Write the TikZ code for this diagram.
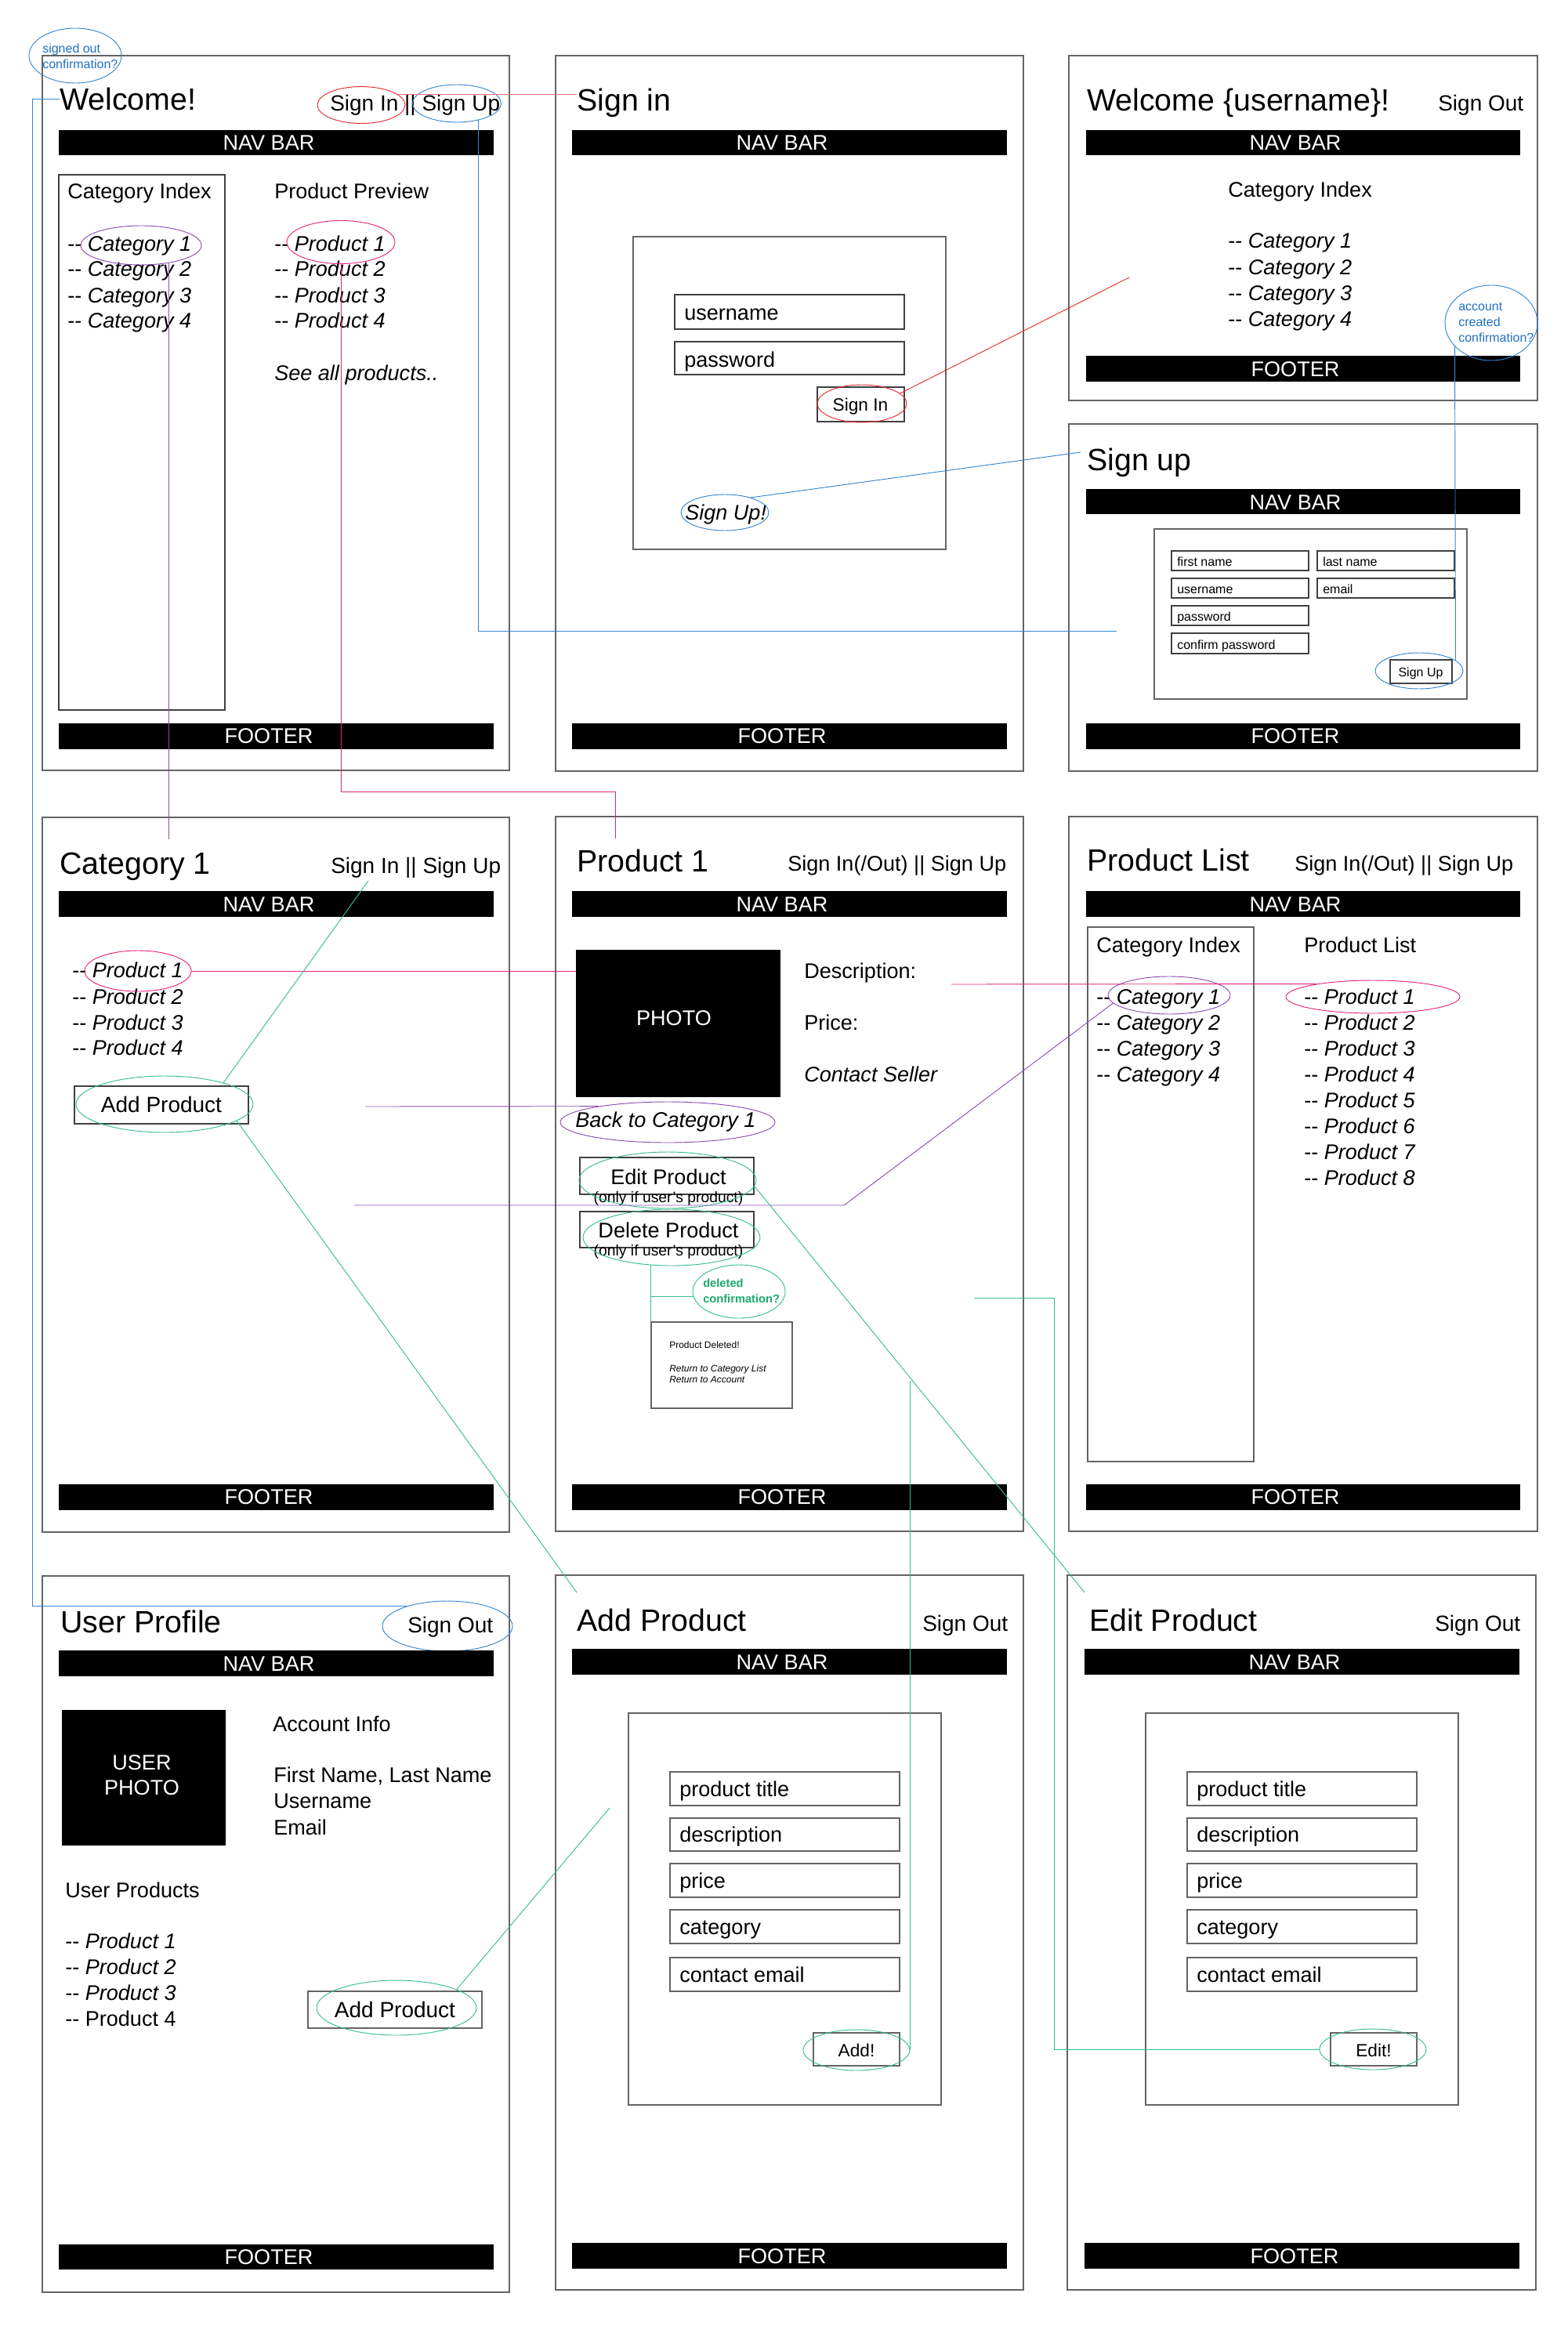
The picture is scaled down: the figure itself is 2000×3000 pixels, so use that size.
\documentclass[tikz,border=0pt]{standalone}
\usepackage{fontspec}
\setmainfont{Liberation Sans}
\usetikzlibrary{shapes.geometric}

\definecolor{wfblue}{RGB}{52,134,210}
\definecolor{wfnote}{RGB}{31,112,196}
\definecolor{wfred}{RGB}{232,40,50}
\definecolor{wfsalmon}{RGB}{238,112,124}
\definecolor{wfpink}{RGB}{230,36,124}
\definecolor{wfpurple}{RGB}{140,76,178}
\definecolor{wfgreen}{RGB}{54,190,136}
\definecolor{wfgreentext}{RGB}{28,168,108}
\definecolor{wfframe}{RGB}{100,100,100}

\newcommand{\itm}[1]{-\kern0pt-\ #1}

\begin{document}
\begin{tikzpicture}[x=0.75pt,y=0.75pt,yscale=-1,xscale=1,
  win/.style={draw=wfframe, line width=1.1pt},
  box/.style={draw=wfframe, line width=0.9pt},
  fld/.style={draw=black!75, line width=0.8pt},
  bar/.style={fill=black},
  ttl/.style={font=\fontsize{29.5}{35}\selectfont, inner sep=0pt, anchor=base west},
  txt/.style={font=\fontsize{20.3}{24}\selectfont, inner sep=0pt, anchor=base west},
  lnk/.style={font=\fontsize{21}{25}\selectfont, inner sep=0pt, anchor=base west},
  btn/.style={font=\fontsize{17}{20}\selectfont, inner sep=0pt, anchor=base},
  sml/.style={font=\fontsize{12}{14}\selectfont, inner sep=0pt, anchor=base west},
  owner/.style={font=\fontsize{14.5}{17}\selectfont, inner sep=0pt, anchor=base},
  tiny/.style={font=\fontsize{9}{11}\selectfont, inner sep=0pt, anchor=base west},
  conf/.style={font=\bfseries\fontsize{11}{13}\selectfont, text=wfgreentext, inner sep=0pt, anchor=base west},
  bartxt/.style={font=\fontsize{20.3}{24}\selectfont, text=white, inner sep=0pt, anchor=base},
  note/.style={font=\fontsize{12}{14}\selectfont, text=wfnote, inner sep=0pt, anchor=base west},
  ring/.style 2 args={ellipse, draw, line width=0.7pt, minimum width={#1*0.75pt}, minimum height={#2*0.75pt}, inner sep=0pt},
  wire/.style={line width=0.7pt}
]
\useasboundingbox (0,0) rectangle (2000,3000);

%%%%%%%% Welcome (signed out)
%Shape: Rectangle
\draw [win] (54,71) rectangle (650,983) ;
% Text Node
\node [ttl] (welTitle) at (76,141) {Welcome!};
% Text Node
\node [lnk] (welSign) at (421,142) {Sign In || Sign Up};
%Shape: Ellipse
\node [ring={112}{47}, draw=wfred] (welIn) at (461,134) {};
\node [ring={113}{48}, draw=wfblue] (welUp) at (583,132) {};
%Shape: Rectangle
\draw [bar] (75,166) rectangle (629,197) ;
\node [bartxt] (welNav) at (343,192) {NAV BAR};
\draw [fld] (75,223) rectangle (287,906) ;
% Text Node
\node [txt] (welCatHd) at (86,254) {Category Index};
\node [txt] (welPrdHd) at (350,254) {Product Preview};
\node [txt] (welCat1) at (86,321) {\itm{\textit{Category 1}}};
\node [txt] (welCat2) at (86,353) {\itm{\textit{Category 2}}};
\node [txt] (welCat3) at (86,386) {\itm{\textit{Category 3}}};
\node [txt] (welCat4) at (86,418) {\itm{\textit{Category 4}}};
\node [txt] (welPrd1) at (350,321) {\itm{\textit{Product 1}}};
\node [txt] (welPrd2) at (350,353) {\itm{\textit{Product 2}}};
\node [txt] (welPrd3) at (350,386) {\itm{\textit{Product 3}}};
\node [txt] (welPrd4) at (350,418) {\itm{\textit{Product 4}}};
\node [txt] (welAll) at (350,485) {\textit{See all products..}};
%Shape: Ellipse
\node [ring={154}{50}, draw=wfpurple] (welCatRing) at (180,313) {};
\node [ring={138}{55}, draw=wfpink] (welPrdRing) at (435,309) {};
%Shape: Rectangle
\draw [bar] (75,923) rectangle (629,955) ;
\node [bartxt] (welFoot) at (343,948) {FOOTER};
%Shape: Ellipse
\node [ring={118}{70}, draw=wfblue] (outNote) at (96,71) {};
\node [note] (outNoteA) at (54,68) {signed out};
\node [note] (outNoteB) at (54,88) {confirmation?};

%%%%%%%% Sign in
\draw [win] (709,71) rectangle (1306,984) ;
\node [ttl] (sinTitle) at (736,142) {Sign in};
\draw [bar] (730,166) rectangle (1284,197) ;
\node [bartxt] (sinNav) at (998,192) {NAV BAR};
\draw [box] (808,302) rectangle (1207,701) ;
\draw [fld] (861,376) rectangle (1154,420) ;
\node [txt] (sinUser) at (873,408) {username};
\draw [fld] (861,436) rectangle (1154,478) ;
\node [txt] (sinPass) at (873,468) {password};
\draw [fld] (1043,494) rectangle (1154,538) ;
\node [btn] (sinBtn) at (1098,524) {Sign In};
\node [ring={114}{48}, draw=wfred] (sinIn) at (1100,515) {};
\node [txt] (sinUp) at (874,663) {\textit{Sign Up!}};
\node [ring={112}{46}, draw=wfblue] (sinUpRing) at (925,654) {};
\draw [bar] (730,923) rectangle (1284,955) ;
\node [bartxt] (sinFoot) at (998,948) {FOOTER};

%%%%%%%% Welcome (signed in)
\draw [win] (1364,71) rectangle (1962,511) ;
\node [ttl] (homeTitle) at (1387,142) {Welcome \{username\}!};
\node [lnk] (homeOut) at (1835,142) {Sign Out};
\draw [bar] (1386,166) rectangle (1939,197) ;
\node [bartxt] (homeNav) at (1653,192) {NAV BAR};
\node [txt] (homeCatHd) at (1567,252) {Category Index};
\node [txt] (homeCat1) at (1567,317) {\itm{\textit{Category 1}}};
\node [txt] (homeCat2) at (1567,350) {\itm{\textit{Category 2}}};
\node [txt] (homeCat3) at (1567,383) {\itm{\textit{Category 3}}};
\node [txt] (homeCat4) at (1567,416) {\itm{\textit{Category 4}}};
\draw [bar] (1386,454) rectangle (1939,486) ;
\node [bartxt] (homeFoot) at (1653,480) {FOOTER};
\node [ring={118}{96}, draw=wfblue] (homeNote) at (1903,412) {};
\node [note] (homeNoteA) at (1861,397) {account};
\node [note] (homeNoteB) at (1861,416) {created};
\node [note] (homeNoteC) at (1861,436) {confirmation?};

%%%%%%%% Sign up
\draw [win] (1364,541) rectangle (1962,984) ;
\node [ttl] (upTitle) at (1387,600) {Sign up};
\draw [bar] (1386,624) rectangle (1939,655) ;
\node [bartxt] (upNav) at (1653,650) {NAV BAR};
\draw [box] (1473,675) rectangle (1872,892) ;
\draw [fld] (1495,703) rectangle (1670,728) ;
\node [sml] (upFirst) at (1502,722) {first name};
\draw [fld] (1681,703) rectangle (1856,728) ;
\node [sml] (upLast) at (1688,722) {last name};
\draw [fld] (1495,738) rectangle (1670,763) ;
\node [sml] (upUser) at (1502,757) {username};
\draw [fld] (1681,738) rectangle (1856,763) ;
\node [sml] (upMail) at (1688,757) {email};
\draw [fld] (1495,773) rectangle (1670,798) ;
\node [sml] (upPass) at (1502,792) {password};
\draw [fld] (1495,808) rectangle (1670,834) ;
\node [sml] (upConf) at (1502,828) {confirm password};
\draw [fld] (1774,842) rectangle (1853,872) ;
\node [sml, anchor=base] (upBtn) at (1813,863) {Sign Up};
\node [ring={112}{46}, draw=wfblue] (upBtnRing) at (1811,856) {};
\draw [bar] (1386,923) rectangle (1939,955) ;
\node [bartxt] (upFoot) at (1653,948) {FOOTER};

%%%%%%%% Category 1
\draw [win] (54,1043) rectangle (650,1955) ;
\node [ttl] (catTitle) at (76,1115) {Category 1};
\node [lnk] (catSign) at (422,1114) {Sign In || Sign Up};
\draw [bar] (75,1137) rectangle (629,1169) ;
\node [bartxt] (catNav) at (343,1163) {NAV BAR};
\node [txt] (catPrd1) at (92,1247) {\itm{\textit{Product 1}}};
\node [txt] (catPrd2) at (92,1281) {\itm{\textit{Product 2}}};
\node [txt] (catPrd3) at (92,1314) {\itm{\textit{Product 3}}};
\node [txt] (catPrd4) at (92,1346) {\itm{\textit{Product 4}}};
\node [ring={136}{52}, draw=wfpink] (catP1) at (176,1239) {};
\draw [fld] (95,1386) rectangle (317,1434) ;
\node [lnk, anchor=base] (catAdd) at (206,1419) {Add Product};
\node [ring={226}{72}, draw=wfgreen] (catAddRing) at (210,1409) {};
\draw [bar] (75,1894) rectangle (629,1926) ;
\node [bartxt] (catFoot) at (343,1919) {FOOTER};

%%%%%%%% Product 1
\draw [win] (709,1042) rectangle (1306,1954) ;
\node [ttl] (prdTitle) at (736,1112) {Product 1};
\node [txt] (prdSign) at (1005,1111) {Sign In(/Out) || Sign Up};
\draw [bar] (730,1137) rectangle (1284,1169) ;
\node [bartxt] (prdNav) at (998,1163) {NAV BAR};
\node [fill=black, minimum width={261*0.75pt}, minimum height={188*0.75pt}, inner sep=0pt] (prdPhoto) at (865.5,1306) {};
\node [bartxt] (prdPhotoTxt) at (860,1308) {PHOTO};
\node [txt] (prdDesc) at (1026,1248) {Description:};
\node [txt] (prdPrice) at (1026,1314) {Price:};
\node [txt] (prdSeller) at (1026,1380) {\textit{Contact Seller}};
\node [txt] (prdBack) at (734,1438) {\textit{Back to Category 1}};
\node [ring={274}{52}, draw=wfpurple] (prdBackRing) at (852,1432) {};
\draw [fld] (740,1477) rectangle (962,1524) ;
\node [txt, anchor=base] (prdEdit) at (853,1511) {Edit Product};
\node [owner] (prdEditNote) at (853,1534) {(only if user's product)};
\node [ring={226}{72}, draw=wfgreen] (prdEditRing) at (852,1506) {};
\draw [fld] (740,1546) rectangle (962,1592) ;
\node [txt, anchor=base] (prdDel) at (853,1579) {Delete Product};
\node [owner] (prdDelNote) at (853,1602) {(only if user's product)};
\node [ring={226}{72}, draw=wfgreen] (prdDelRing) at (857,1579) {};
\node [ring={118}{68}, draw=wfgreen] (prdDelConf) at (943,1648) {};
\node [conf] (prdDelConfA) at (897,1642) {deleted};
\node [conf] (prdDelConfB) at (897,1662) {confirmation?};
\node [box, minimum width={180*0.75pt}, minimum height={110*0.75pt}, inner sep=0pt] (prdDelMsg) at (921,1742) {};
\node [tiny] (prdDelA) at (854,1720) {Product Deleted!};
\node [tiny] (prdDelB) at (854,1750) {\textit{Return to Category List}};
\node [tiny] (prdDelC) at (854,1764) {\textit{Return to Account}};
\draw [bar] (730,1894) rectangle (1284,1926) ;
\node [bartxt] (prdFoot) at (998,1919) {FOOTER};

%%%%%%%% Product List
\draw [win] (1364,1042) rectangle (1962,1954) ;
\node [ttl] (plTitle) at (1387,1111) {Product List};
\node [txt] (plSign) at (1652,1111) {Sign In(/Out) || Sign Up};
\draw [bar] (1386,1137) rectangle (1939,1169) ;
\node [bartxt] (plNav) at (1653,1163) {NAV BAR};
\draw [box] (1388,1183) rectangle (1600,1865) ;
\node [txt] (plCatHd) at (1399,1215) {Category Index};
\node [txt] (plPrdHd) at (1664,1215) {Product List};
\node [txt] (plCatA) at (1399,1281) {\itm{\textit{Category 1}}};
\node [txt] (plCatB) at (1399,1314) {\itm{\textit{Category 2}}};
\node [txt] (plCatC) at (1399,1347) {\itm{\textit{Category 3}}};
\node [txt] (plCatD) at (1399,1380) {\itm{\textit{Category 4}}};
\node [txt] (plPrdA) at (1664,1281) {\itm{\textit{Product 1}}};
\node [txt] (plPrdB) at (1664,1314) {\itm{\textit{Product 2}}};
\node [txt] (plPrdC) at (1664,1347) {\itm{\textit{Product 3}}};
\node [txt] (plPrdD) at (1664,1380) {\itm{\textit{Product 4}}};
\node [txt] (plPrdE) at (1664,1413) {\itm{\textit{Product 5}}};
\node [txt] (plPrdF) at (1664,1446) {\itm{\textit{Product 6}}};
\node [txt] (plPrdG) at (1664,1479) {\itm{\textit{Product 7}}};
\node [txt] (plPrdH) at (1664,1512) {\itm{\textit{Product 8}}};
\node [ring={156}{48}, draw=wfpurple] (plCat1) at (1492,1270) {};
\node [ring={222}{42}, draw=wfpink] (plPrd1) at (1752,1272) {};
\draw [bar] (1386,1894) rectangle (1939,1926) ;
\node [bartxt] (plFoot) at (1653,1919) {FOOTER};

%%%%%%%% User Profile
\draw [win] (54,2011) rectangle (650,2925) ;
\node [ttl] (usrTitle) at (77,2083) {User Profile};
\node [lnk] (usrOut) at (520,2083) {Sign Out};
\node [ring={166}{64}, draw=wfblue] (usrOutRing) at (571,2075) {};
\draw [bar] (75,2106) rectangle (629,2138) ;
\node [bartxt] (usrNav) at (343,2132) {NAV BAR};
\draw [bar] (79,2182) rectangle (287,2354) ;
\node [bartxt] (usrPhotoA) at (181,2258) {USER};
\node [bartxt] (usrPhotoB) at (181,2290) {PHOTO};
\node [txt] (usrInfo) at (348,2209) {Account Info};
\node [txt] (usrName) at (349,2274) {First Name, Last Name};
\node [txt] (usrLogin) at (349,2307) {Username};
\node [txt] (usrMail) at (349,2341) {Email};
\node [txt] (usrPrdHd) at (83,2421) {User Products};
\node [txt] (usrPrd1) at (83,2486) {\itm{\textit{Product 1}}};
\node [txt] (usrPrd2) at (83,2519) {\itm{\textit{Product 2}}};
\node [txt] (usrPrd3) at (83,2552) {\itm{\textit{Product 3}}};
\node [txt] (usrPrd4) at (83,2585) {\itm{Product 4}};
\draw [box] (393,2541) rectangle (615,2588) ;
\node [lnk, anchor=base] (usrAdd) at (504,2574) {Add Product};
\node [ring={204}{70}, draw=wfgreen] (usrAddRing) at (506,2562) {};
\draw [bar] (75,2864) rectangle (629,2895) ;
\node [bartxt] (usrFoot) at (343,2889) {FOOTER};

%%%%%%%% Add Product
\draw [win] (709,2010) rectangle (1306,2922) ;
\node [ttl] (addTitle) at (736,2081) {Add Product};
\node [lnk] (addOut) at (1177,2081) {Sign Out};
\draw [bar] (730,2104) rectangle (1284,2136) ;
\node [bartxt] (addNav) at (998,2130) {NAV BAR};
\draw [box] (802,2186) rectangle (1201,2686) ;
\draw [box] (855,2261) rectangle (1148,2304) ;
\node [txt] (addF1) at (867,2292) {product title};
\draw [box] (855,2320) rectangle (1148,2362) ;
\node [txt] (addF2) at (867,2350) {description};
\draw [box] (855,2378) rectangle (1148,2421) ;
\node [txt] (addF3) at (867,2409) {price};
\draw [box] (855,2437) rectangle (1148,2480) ;
\node [txt] (addF4) at (867,2468) {category};
\draw [box] (855,2498) rectangle (1148,2541) ;
\node [txt] (addF5) at (867,2529) {contact email};
\draw [box] (1038,2594) rectangle (1148,2636) ;
\node [btn] (addBtn) at (1093,2624) {Add!};
\node [ring={136}{52}, draw=wfgreen] (addBtnRing) at (1093,2616) {};
\draw [bar] (730,2862) rectangle (1284,2894) ;
\node [bartxt] (addFoot) at (998,2888) {FOOTER};

%%%%%%%% Edit Product
\draw [win] (1362,2010) rectangle (1960,2922) ;
\node [ttl] (edtTitle) at (1390,2081) {Edit Product};
\node [lnk] (edtOut) at (1831,2081) {Sign Out};
\draw [bar] (1384,2104) rectangle (1938,2136) ;
\node [bartxt] (edtNav) at (1652,2130) {NAV BAR};
\draw [box] (1462,2186) rectangle (1861,2686) ;
\draw [box] (1515,2261) rectangle (1808,2304) ;
\node [txt] (edtF1) at (1527,2292) {product title};
\draw [box] (1515,2320) rectangle (1808,2362) ;
\node [txt] (edtF2) at (1527,2350) {description};
\draw [box] (1515,2378) rectangle (1808,2421) ;
\node [txt] (edtF3) at (1527,2409) {price};
\draw [box] (1515,2437) rectangle (1808,2480) ;
\node [txt] (edtF4) at (1527,2468) {category};
\draw [box] (1515,2498) rectangle (1808,2541) ;
\node [txt] (edtF5) at (1527,2529) {contact email};
\draw [box] (1698,2594) rectangle (1808,2636) ;
\node [btn] (edtBtn) at (1753,2624) {Edit!};
\node [ring={136}{52}, draw=wfgreen] (edtBtnRing) at (1752,2615) {};
\draw [bar] (1384,2862) rectangle (1938,2894) ;
\node [bartxt] (edtFoot) at (1652,2888) {FOOTER};

%%%%%%%% links between pages
\coordinate (outRail) at (41,124);
\coordinate (upForm) at (1425,805);
\coordinate (catIn) at (214,1071);
\coordinate (prdKnee) at (785,1010);
\coordinate (prdIn) at (785,1070);
\coordinate (homeIn) at (1441,354);
\coordinate (upIn) at (1379,577);
\coordinate (catSignPt) at (470,1124);
\coordinate (addIn) at (736,2032);
\coordinate (backFrom) at (466,1412);
\coordinate (catFrom) at (452,1538);
\coordinate (catKnee) at (1077,1538);
\coordinate (edtIn) at (1384,2032);
\coordinate (addFrom) at (1161,1762);
\coordinate (edtFrom) at (1243,1656);
\coordinate (edtKnee) at (1345,1656);
\coordinate (plFrom) at (1214,1256);
\coordinate (usrAddIn) at (778,2307);

%Straight Lines
\draw [wire, wfsalmon] (welIn.17) -- (welIn.17 -| sinTitle.west) ;
\draw [wire, wfblue] (welUp.-38) |- (upForm) ;
\draw [wire, wfblue] (welTitle.west) -- (welTitle.west -| outRail) |- (usrOutRing.154) ;
\draw [wire, wfpurple] (welCatRing.-33) -- (welCatRing.-33 |- catIn) ;
\draw [wire, wfpink] (welPrdRing.south) |- (prdKnee) -- (prdIn) ;
\draw [wire, wfred] (sinIn.15) -- (homeIn) ;
\draw [wire, wfblue] (sinUpRing.30) -- (upIn) ;
\draw [wire, wfblue] (homeNote.-147) -- (upBtnRing.16) ;
\draw [wire, wfpink] (catP1.east) -- (catP1.east -| prdPhoto.west) ;
\draw [wire, wfgreen] (catAddRing.20) -- (catSignPt) ;
\draw [wire, wfgreen] (catAddRing.-13) -- (addIn) ;
\draw [wire, wfpurple] (backFrom) -- (prdBackRing.167) ;
\draw [wire, wfpurple] (catFrom) -- (catKnee) -- (plCat1.-172) ;
\draw [wire, wfgreen] (prdDelRing.-127) -- (prdDelRing.-127 |- prdDelMsg.north) ;
\draw [wire, wfgreen] (prdDelConf.-174 -| prdDelRing.-127) -- (prdDelConf.-174) ;
\draw [wire, wfgreen] (prdEditRing.-4) -- (edtIn) ;
\draw [wire, wfgreen] (addFrom -| addBtnRing.east) -- (addBtnRing.east) ;
\draw [wire, wfgreen] (edtFrom) -- (edtKnee) |- (edtBtnRing.west) ;
\draw [wire, wfpink] (plFrom) -- (plPrd1.167) ;
\draw [wire, wfgreen] (usrAddRing.17) -- (usrAddIn) ;

\end{tikzpicture}
\end{document}
